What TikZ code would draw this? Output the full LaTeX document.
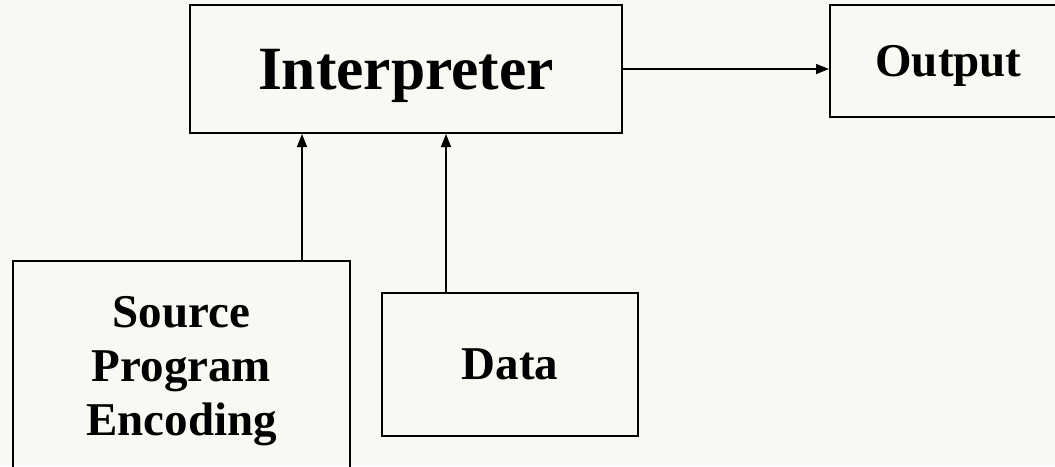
\documentclass[tikz,border=0pt]{standalone}
\usepackage{fontspec}
\setmainfont{Liberation Serif}
\usetikzlibrary{arrows.meta}
\definecolor{bgcol}{RGB}{247,249,242}
\tikzset{
  boxnode/.style={draw=black, line width=2pt, rectangle, inner sep=0pt, font=\bfseries\fontsize{47}{54}\selectfont, align=center},
  arr/.style={line width=1.5pt, -{Triangle[length=13pt,width=10pt]}}
}
\begin{document}
\begin{tikzpicture}
  \useasboundingbox (0pt,0pt) rectangle (1055pt,-466pt);
  \fill[bgcol] (0pt,0pt) rectangle (1055pt,-466pt);
  \clip (0pt,0pt) rectangle (1055pt,-466pt);
  \node[boxnode, minimum width=432pt, minimum height=128pt, text depth=0pt, font=\bfseries\fontsize{61.5}{70}\selectfont] (interp) at (406pt,-69pt) {Interpreter};
  \node[boxnode, minimum width=237pt, minimum height=112pt, text depth=0pt] (output) at (948.5pt,-61pt) {Output};
  \node[boxnode, minimum width=337pt, minimum height=220pt] (source) at (181.5pt,-371pt) {Source\\Program\\Encoding};
  \node[boxnode, minimum width=256pt, minimum height=143pt] (data) at (510pt,-364.5pt) {Data};
  \draw[arr] (interp.east) -- (interp.east -| output.west);
  \draw[arr] ([xshift=120.5pt]source.north) -- ([xshift=120.5pt]source.north |- interp.south);
  \draw[arr] ([xshift=-64pt]data.north) -- ([xshift=-64pt]data.north |- interp.south);
\end{tikzpicture}
\end{document}
